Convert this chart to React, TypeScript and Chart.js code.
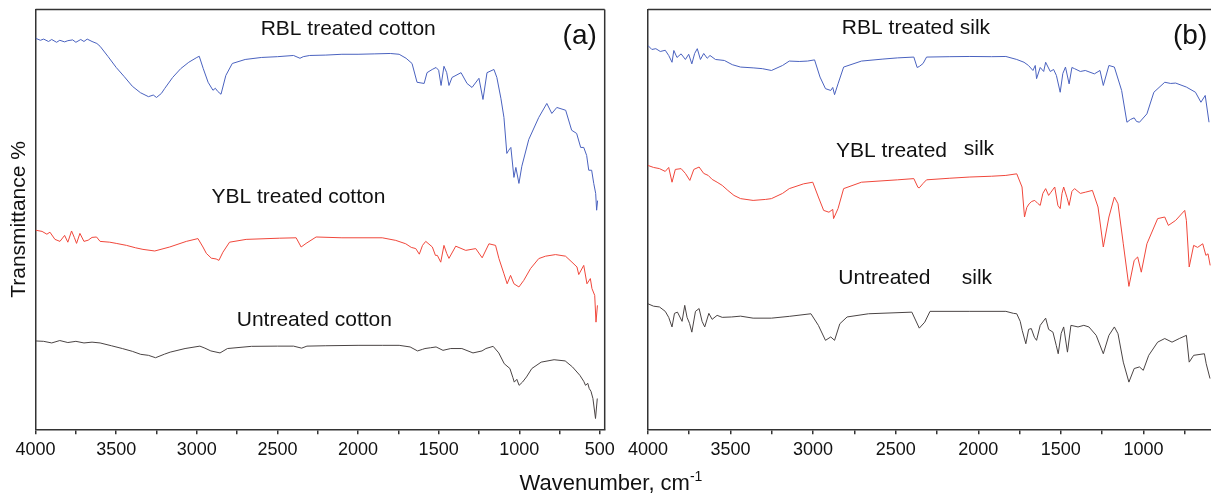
import React, { useEffect, useRef } from "react";
import { Chart, registerables } from "chart.js";

Chart.register(...registerables);

// ---------- Data (wavenumber cm^-1, transmittance %, offset spectra) ----------
const RBL_COTTON: [number, number][] = [
  [4000, 97.8], [3970, 97.3], [3950, 97.6], [3920, 97.0], [3900, 97.5], [3870, 96.8], [3850, 97.3],
  [3820, 96.9], [3800, 97.2], [3770, 97.4], [3750, 96.8], [3720, 97.5], [3700, 97.0], [3680, 97.6],
  [3650, 97.0], [3620, 96.5], [3600, 95.8], [3550, 93.2], [3500, 90.5], [3450, 88.2], [3400, 85.8],
  [3350, 84.2], [3300, 83.2], [3270, 83.6], [3250, 83.0], [3220, 84.0], [3200, 85.2], [3150, 88.0],
  [3100, 90.2], [3050, 91.8], [3000, 93.0], [2985, 93.3], [2960, 90.2], [2930, 86.8], [2900, 84.8],
  [2885, 85.3], [2870, 84.5], [2850, 83.8], [2820, 88.5], [2780, 91.5], [2700, 92.5], [2600, 93.0],
  [2500, 93.2], [2400, 93.5], [2360, 92.8], [2340, 93.2], [2300, 93.5], [2200, 93.6], [2100, 93.8],
  [2000, 93.8], [1900, 93.9], [1800, 94.0], [1745, 93.8], [1702, 92.8], [1665, 91.5], [1634, 86.8],
  [1590, 86.5], [1572, 89.2], [1540, 90.0], [1516, 90.5], [1500, 89.8], [1485, 86.0], [1467, 90.8],
  [1450, 89.2], [1436, 86.0], [1417, 88.0], [1361, 89.2], [1324, 86.5], [1293, 85.5], [1250, 87.8],
  [1225, 82.5], [1200, 89.2], [1157, 90.0], [1139, 88.0], [1114, 82.8], [1095, 78.0], [1077, 69.0],
  [1065, 69.8], [1052, 70.5], [1033, 63.0], [1021, 65.5], [1002, 61.5], [984, 65.8], [941, 72.5],
  [879, 78.0], [829, 81.5], [798, 79.0], [767, 80.5], [712, 79.8], [675, 74.8], [644, 74.0],
  [619, 70.5], [600, 70.5], [582, 68.5], [569, 64.8], [551, 64.8], [538, 61.5], [526, 59.0],
  [520, 54.8], [514, 57.2],
];

const YBL_COTTON: [number, number][] = [
  [4000, 49.8], [3960, 49.5], [3930, 48.8], [3911, 49.3], [3880, 47.5], [3849, 47.0], [3820, 48.5],
  [3800, 46.8], [3777, 49.6], [3760, 48.0], [3746, 46.5], [3725, 49.0], [3700, 47.0], [3674, 47.3],
  [3650, 48.0], [3622, 48.1], [3600, 47.0], [3540, 46.8], [3500, 46.5], [3436, 46.0], [3380, 45.4],
  [3334, 45.0], [3261, 44.6], [3168, 45.6], [3065, 47.0], [2993, 47.7], [2962, 45.6], [2941, 44.0],
  [2910, 42.8], [2880, 42.6], [2863, 42.25], [2838, 44.3], [2797, 46.8], [2694, 47.5], [2488, 47.8],
  [2384, 47.9], [2353, 45.6], [2322, 46.5], [2260, 48.1], [2100, 47.9], [1850, 47.9], [1766, 47.25],
  [1704, 46.4], [1670, 45.5], [1642, 45.2], [1620, 43.8], [1600, 46.0], [1580, 47.0], [1539, 45.6],
  [1520, 43.5], [1508, 43.5], [1487, 41.8], [1467, 46.0], [1450, 44.0], [1436, 42.75], [1394, 45.8],
  [1332, 44.75], [1270, 45.2], [1230, 42.9], [1188, 46.4], [1147, 46.0], [1126, 42.7], [1095, 38.9],
  [1075, 36.4], [1054, 38.5], [1033, 36.4], [1002, 35.6], [972, 37.25], [930, 40.2], [879, 42.7],
  [837, 43.3], [775, 43.7], [713, 43.3], [673, 41.8], [642, 40.6], [631, 38.7], [600, 41.0],
  [580, 36.4], [559, 37.7], [549, 35.2], [532, 33.5], [524, 26.8], [515, 31.0],
];

const UNTREATED_COTTON: [number, number][] = [
  [4000, 22.1], [3950, 22.0], [3900, 21.6], [3850, 22.2], [3800, 21.7], [3750, 22.0], [3700, 21.6],
  [3650, 21.8], [3600, 21.6], [3530, 20.9], [3462, 20.2], [3400, 19.5], [3348, 18.75], [3300, 18.5],
  [3256, 17.9], [3200, 18.8], [3165, 19.3], [3073, 20.2], [2981, 20.8], [2950, 20.3], [2913, 19.6],
  [2856, 19.1], [2810, 20.2], [2661, 20.75], [2500, 20.8], [2400, 20.8], [2350, 20.3], [2317, 20.8],
  [2200, 20.9], [2000, 21.0], [1850, 21.0], [1745, 21.0], [1677, 20.6], [1631, 19.6], [1600, 20.0],
  [1585, 20.2], [1550, 20.4], [1516, 20.6], [1473, 19.75], [1425, 20.2], [1356, 20.2], [1287, 19.1],
  [1231, 19.6], [1207, 20.2], [1162, 20.75], [1127, 19.1], [1093, 16.4], [1058, 15.2], [1040, 13.0],
  [1031, 11.8], [1015, 12.5], [1001, 11.0], [980, 11.8], [955, 13.1], [922, 15.2], [864, 16.8],
  [784, 17.4], [715, 17.1], [670, 15.6], [624, 13.5], [600, 12.0], [589, 11.0], [575, 11.5],
  [566, 10.2], [555, 9.5], [543, 7.7], [527, 2.7], [516, 7.7],
];

const RBL_SILK: [number, number][] = [
  [4000, 96.0], [3976, 95.0], [3952, 95.2], [3925, 94.5], [3895, 94.8], [3874, 93.5], [3854, 91.8],
  [3843, 94.75], [3824, 93.0], [3799, 93.9], [3773, 92.5], [3753, 93.8], [3734, 91.4], [3717, 94.0],
  [3701, 95.2], [3682, 92.5], [3662, 94.0], [3641, 92.8], [3624, 93.5], [3591, 92.5], [3537, 92.25],
  [3489, 91.2], [3439, 90.6], [3363, 90.4], [3307, 90.2], [3252, 89.75], [3185, 91.0], [3144, 92.1],
  [3084, 92.0], [3034, 92.1], [2991, 92.4], [2958, 88.1], [2925, 85.2], [2893, 84.75], [2881, 85.5],
  [2870, 83.7], [2849, 86.4], [2815, 90.6], [2707, 92.1], [2577, 92.6], [2488, 92.9], [2390, 93.1],
  [2370, 90.5], [2357, 90.75], [2334, 91.5], [2313, 93.1], [2172, 93.2], [2051, 93.25], [1919, 93.2],
  [1833, 93.25], [1767, 92.5], [1723, 91.8], [1696, 91.0], [1669, 89.75], [1655, 91.0], [1647, 87.7],
  [1625, 90.5], [1604, 89.5], [1592, 91.8], [1564, 89.5], [1544, 90.0], [1527, 88.5], [1504, 84.3],
  [1488, 89.0], [1472, 90.6], [1450, 86.4], [1433, 90.5], [1417, 90.2], [1382, 89.5], [1352, 89.75],
  [1297, 88.9], [1263, 89.75], [1243, 86.0], [1209, 91.0], [1176, 90.6], [1132, 84.75], [1100, 76.8],
  [1078, 77.5], [1056, 77.9], [1042, 77.0], [1024, 76.8], [979, 78.9], [937, 84.3], [871, 86.8],
  [835, 86.5], [805, 86.6], [740, 85.6], [685, 84.3], [652, 81.8], [626, 83.5], [603, 76.8],
];

const YBL_SILK: [number, number][] = [
  [4000, 66.0], [3966, 65.5], [3930, 65.2], [3895, 64.5], [3874, 65.5], [3854, 61.8], [3834, 65.0],
  [3799, 65.2], [3773, 64.0], [3746, 62.25], [3722, 65.0], [3690, 65.6], [3662, 64.0], [3635, 63.5],
  [3611, 62.5], [3581, 61.8], [3550, 61.0], [3516, 59.75], [3479, 58.5], [3439, 57.7], [3363, 57.25],
  [3287, 57.5], [3252, 57.7], [3185, 59.0], [3144, 60.2], [3057, 61.4], [3002, 61.8], [2968, 58.1],
  [2936, 54.75], [2904, 54.3], [2881, 55.0], [2876, 52.7], [2849, 55.2], [2815, 60.2], [2707, 61.8],
  [2488, 62.4], [2390, 62.7], [2365, 60.5], [2357, 60.4], [2334, 61.5], [2313, 62.4], [2172, 62.8],
  [2051, 63.1], [1919, 63.3], [1833, 63.5], [1767, 63.9], [1735, 60.6], [1720, 53.1], [1706, 55.5],
  [1692, 56.4], [1676, 57.0], [1658, 57.25], [1640, 56.5], [1625, 56.0], [1609, 59.0], [1592, 60.2],
  [1574, 58.5], [1560, 59.3], [1537, 60.6], [1518, 56.0], [1504, 55.2], [1493, 59.0], [1483, 60.6],
  [1463, 58.0], [1450, 56.0], [1433, 59.5], [1417, 60.2], [1382, 59.0], [1352, 59.3], [1309, 59.75],
  [1275, 55.6], [1243, 45.6], [1209, 53.1], [1176, 58.1], [1154, 56.4], [1122, 46.4], [1088, 35.75],
  [1056, 42.25], [1035, 43.1], [1013, 39.3], [979, 46.4], [914, 52.7], [871, 53.1], [849, 51.0],
  [805, 52.25], [750, 54.75], [740, 52.25], [723, 40.6], [696, 46.0], [672, 45.5], [641, 46.4],
  [622, 43.5], [609, 43.9], [596, 41.0],
];

const UNTREATED_SILK: [number, number][] = [
  [4000, 31.4], [3966, 30.8], [3930, 30.6], [3895, 29.5], [3874, 28.0], [3854, 25.6], [3839, 29.0],
  [3821, 29.3], [3793, 27.0], [3777, 31.0], [3763, 28.0], [3748, 26.5], [3734, 24.3], [3712, 29.5],
  [3690, 30.2], [3672, 27.0], [3656, 25.6], [3631, 29.0], [3611, 27.5], [3581, 28.5], [3550, 28.0],
  [3493, 28.1], [3439, 28.3], [3363, 27.8], [3252, 27.8], [3144, 28.25], [3013, 28.9], [2968, 26.0],
  [2925, 22.25], [2893, 23.1], [2870, 22.25], [2838, 26.4], [2794, 28.1], [2664, 28.9], [2402, 29.3],
  [2357, 25.3], [2324, 26.8], [2292, 29.5], [2051, 29.5], [1833, 29.5], [1787, 29.0], [1767, 28.9],
  [1746, 27.0], [1734, 24.75], [1712, 21.4], [1695, 25.0], [1679, 25.2], [1660, 23.0], [1647, 22.25],
  [1625, 26.0], [1592, 27.8], [1574, 25.0], [1548, 24.3], [1528, 21.0], [1516, 18.9], [1498, 24.0],
  [1483, 25.6], [1460, 19.3], [1439, 26.0], [1396, 25.6], [1361, 26.0], [1330, 25.6], [1286, 23.5],
  [1243, 18.9], [1209, 23.5], [1176, 25.6], [1154, 23.9], [1122, 16.8], [1088, 11.8], [1056, 15.2],
  [1024, 15.6], [1001, 14.75], [968, 18.5], [914, 21.8], [871, 22.7], [827, 21.8], [783, 22.7],
  [740, 23.5], [723, 16.8], [696, 18.5], [631, 18.9], [620, 16.4], [597, 12.7],
];

// tick positions (cm^-1)
const TICKS_A = [4000, 3750, 3500, 3250, 3000, 2750, 2500, 2250, 2000, 1750, 1500, 1250, 1000, 750, 500];
const TICKS_B = [4000, 3750, 3500, 3250, 3000, 2750, 2500, 2250, 2000, 1750, 1500, 1250, 1000, 750];

// annotations: [text, wavenumber, transmittance, align, size]
const LABELS_A: [string, number, number, CanvasTextAlign, number][] = [
  ["RBL treated cotton", 2061, 100, "center", 21],
  ["(a)", 625, 98.3, "center", 28],
  ["YBL treated cotton", 2370, 58, "center", 21],
  ["Untreated cotton", 2271, 27.3, "center", 21],
];
const LABELS_B: [string, number, number, CanvasTextAlign, number][] = [
  ["RBL treated silk", 2377, 100.3, "center", 21],
  ["(b)", 821, 98.3, "left", 28],
  ["YBL treated", 2525, 69.5, "center", 21],
  ["silk", 1996, 70, "center", 21],
  ["Untreated", 2568, 37.8, "center", 21],
  ["silk", 2008, 37.8, "center", 21],
];

const BLUE = "#4a62bf";
const RED = "#f0473b";
const GRAY = "#4a4444";
const FRAME = "#333333";
const TEXT = "#111111";
const FONT = '"Liberation Sans", Arial, Helvetica, sans-serif';

function dataset(points: [number, number][], color: string) {
  return {
    data: points.map(([x, y]) => ({ x, y })),
    borderColor: color,
    borderWidth: 1,
    pointRadius: 0,
    fill: false,
    tension: 0,
  };
}

function framePlugin(drawRight: boolean) {
  return {
    id: "frame",
    afterDraw(chart: any) {
      const { ctx, chartArea } = chart;
      ctx.save();
      ctx.strokeStyle = FRAME;
      ctx.lineWidth = 1.5;
      ctx.beginPath();
      ctx.moveTo(chartArea.left, chartArea.top);
      ctx.lineTo(chartArea.right, chartArea.top);
      if (drawRight) {
        ctx.moveTo(chartArea.right, chartArea.top);
        ctx.lineTo(chartArea.right, chartArea.bottom);
      }
      ctx.stroke();
      ctx.restore();
    },
  };
}

function labelPlugin(labels: [string, number, number, CanvasTextAlign, number][]) {
  return {
    id: "labels",
    afterDatasetsDraw(chart: any) {
      const { ctx, scales } = chart;
      ctx.save();
      ctx.fillStyle = TEXT;
      ctx.textBaseline = "middle";
      for (const [text, wn, t, align, size] of labels) {
        ctx.font = `${size}px ${FONT}`;
        ctx.textAlign = align;
        ctx.fillText(text, scales.x.getPixelForValue(wn), scales.y.getPixelForValue(t));
      }
      ctx.restore();
    },
  };
}

function makeConfig(opts: {
  series: any[];
  min: number;
  ticks: number[];
  yWidth: number;
  padRight: number;
  title: boolean;
  drawRight: boolean;
  labels: [string, number, number, CanvasTextAlign, number][];
}): any {
  return {
    type: "line",
    data: { datasets: opts.series },
    options: {
      responsive: false,
      animation: false,
      events: [],
      layout: { padding: { left: 0, right: opts.padRight, top: 9.5, bottom: 0 } },
      plugins: { legend: { display: false }, tooltip: { enabled: false } },
      scales: {
        x: {
          type: "linear",
          reverse: true,
          min: opts.min,
          max: 4000,
          afterBuildTicks: (s: any) => {
            s.ticks = opts.ticks.map((value) => ({ value }));
          },
          afterFit: (s: any) => {
            s.height = 63.7;
          },
          ticks: {
            autoSkip: false,
            maxRotation: 0,
            padding: 5,
            color: TEXT,
            font: { size: 18, family: FONT },
            callback: (v: any) => (Number(v) % 500 === 0 ? String(v) : ""),
          },
          grid: {
            display: true,
            drawOnChartArea: false,
            drawTicks: true,
            tickLength: 5,
            tickColor: FRAME,
            tickWidth: 1.5,
            lineWidth: 1.5,
            color: FRAME,
          },
          border: { display: true, color: FRAME, width: 1.5 },
        },
        y: {
          type: "linear",
          min: 0,
          max: 105,
          afterFit: (s: any) => {
            s.width = opts.yWidth;
          },
          ticks: { display: false },
          grid: { display: false, drawTicks: false },
          border: { display: true, color: FRAME, width: 1.5 },
          title: {
            display: opts.title,
            text: "Transmittance %",
            color: TEXT,
            font: { size: 21, family: FONT },
            padding: { top: 7, bottom: 0 },
          },
        },
      },
    },
    plugins: [framePlugin(opts.drawRight), labelPlugin(opts.labels)],
  };
}

export default function App() {
  const refA = useRef<HTMLCanvasElement | null>(null);
  const refB = useRef<HTMLCanvasElement | null>(null);

  useEffect(() => {
    Chart.defaults.font.family = FONT;
    const a = new Chart(
      refA.current as HTMLCanvasElement,
      makeConfig({
        series: [dataset(RBL_COTTON, BLUE), dataset(YBL_COTTON, RED), dataset(UNTREATED_COTTON, GRAY)],
        min: 470,
        ticks: TICKS_A,
        yWidth: 35.6,
        padRight: 14,
        title: true,
        drawRight: true,
        labels: LABELS_A,
      })
    );
    const b = new Chart(
      refB.current as HTMLCanvasElement,
      makeConfig({
        series: [dataset(RBL_SILK, BLUE), dataset(YBL_SILK, RED), dataset(UNTREATED_SILK, GRAY)],
        min: 591,
        ticks: TICKS_B,
        yWidth: 27.9,
        padRight: 0,
        title: false,
        drawRight: false,
        labels: LABELS_B,
      })
    );
    return () => {
      a.destroy();
      b.destroy();
    };
  }, []);

  return (
    <div
      style={{
        position: "fixed",
        left: 0,
        top: 0,
        width: 1211,
        height: 493,
        background: "#ffffff",
        overflow: "hidden",
      }}
    >
      <canvas
        ref={refA}
        width={620}
        height={493}
        style={{ position: "absolute", left: 0, top: 0, width: 620, height: 493 }}
      />
      <canvas
        ref={refB}
        width={591}
        height={493}
        style={{ position: "absolute", left: 620, top: 0, width: 591, height: 493 }}
      />
      <div
        style={{
          position: "absolute",
          left: 0,
          top: 470,
          width: 1222,
          textAlign: "center",
          fontFamily: FONT,
          fontSize: 22,
          lineHeight: "26px",
          color: TEXT,
          whiteSpace: "nowrap",
        }}
      >
        Wavenumber, cm
        <span style={{ position: "relative", top: -9, fontSize: 14 }}>-1</span>
      </div>
    </div>
  );
}
